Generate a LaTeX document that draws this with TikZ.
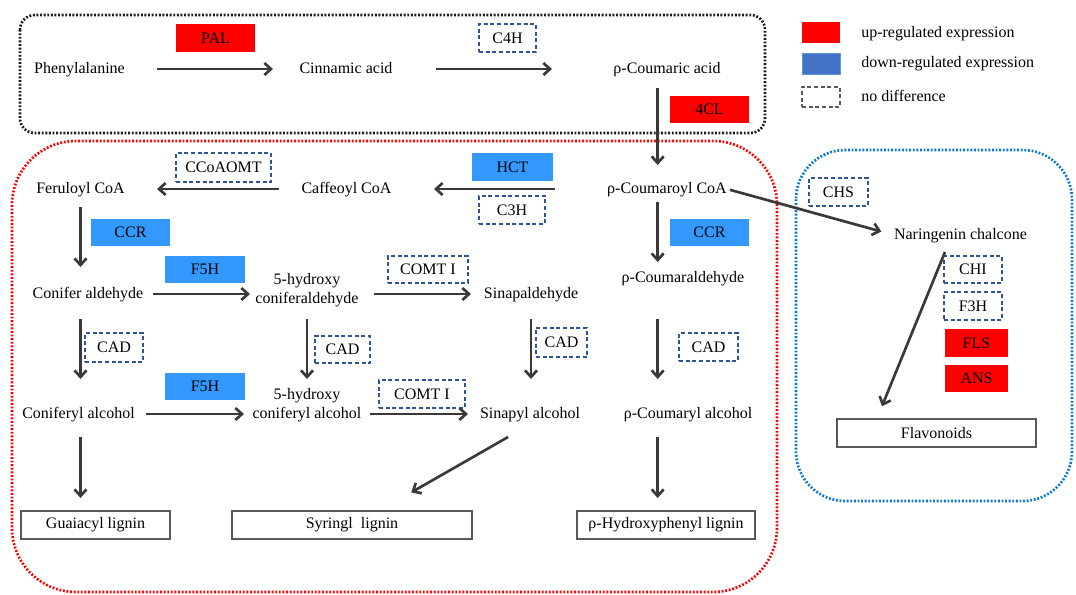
\documentclass[tikz,border=0pt]{standalone}
\usepackage{fontspec}
\setmainfont{Liberation Serif}
\usetikzlibrary{arrows.meta}
\definecolor{arrc}{HTML}{3B3838}
\definecolor{upred}{HTML}{FF0000}
\definecolor{downblue}{HTML}{3399FF}
\definecolor{legblue}{HTML}{4472C4}
\definecolor{legblueb}{HTML}{5B9BD5}
\definecolor{dashblue}{HTML}{2F5597}
\definecolor{prodgray}{HTML}{595959}
\definecolor{dotblue}{HTML}{0A78D2}
\definecolor{dotblack}{HTML}{1A1A1A}
\begin{document}
\begin{tikzpicture}[x=0.75pt,y=-0.75pt,
  font=\fontsize{12}{14.25}\selectfont,
  box/.style 2 args={minimum width=#1*0.75pt, minimum height=#2*0.75pt, inner sep=0pt},
  upbox/.style={fill=upred, draw=none},
  downbox/.style={fill=downblue, draw=none},
  nodiff/.style={draw=dashblue, line width=0.9pt, dash pattern=on 3pt off 2pt},
  prod/.style={draw=prodgray, line width=1.1pt, inner sep=0pt},
  txt/.style={inner sep=0pt, text height=9pt, text depth=2pt},
  two/.style={inner sep=0pt, align=center},
  arr/.style={draw=arrc, line width=2pt, -{Straight Barb[length=5pt,width=9pt]}},
  sh/.style 2 args={shorten <=#1*0.75pt, shorten >=#2*0.75pt},
  dotline/.style={line width=2pt, dash pattern=on 1.4pt off 1.3pt}
]
\useasboundingbox (0,0) rectangle (1076,594);

% containers
\draw[dotline, draw=dotblack, rounded corners=11pt] (20,15) rectangle (765,133);
\draw[dotline, draw=upred, rounded corners=48pt] (12,141) rectangle (777,592);
\draw[dotline, draw=dotblue, rounded corners=37pt] (796,150) rectangle (1072,501);

% legend
\node[box={38}{21}, fill=upred] (lgup) at (821,32.5) {};
\node[box={38}{21}, fill=legblue, draw=legblueb, line width=0.6pt] (lgdown) at (821,63.5) {};
\node[box={38}{20}, draw=prodgray, line width=0.9pt, dash pattern=on 3pt off 2pt] (lgno) at (821,97) {};
\node[txt, anchor=west] (lguptxt) at (861,33) {up-regulated expression};
\node[txt, anchor=west] (lgdowntxt) at (861,63) {down-regulated expression};
\node[txt, anchor=west] (lgnotxt) at (861,97) {no difference};

% metabolites
\node[txt] (phe) at (79.5,69) {Phenylalanine};
\node[txt] (cin) at (346,69) {Cinnamic acid};
\node[txt] (pca) at (667,69) {ρ-Coumaric acid};
\node[txt] (fer) at (80.5,189) {Feruloyl CoA};
\node[txt] (caf) at (346.5,189) {Caffeoyl CoA};
\node[txt] (pcoa) at (667,189) {ρ-Coumaroyl CoA};
\node[txt] (nar) at (960.5,235) {Naringenin chalcone};
\node[txt] (conald) at (88,294) {Conifer aldehyde};
\node[two] (hca) at (307,290.6) {5-hydroxy\\coniferaldehyde};
\node[txt] (sinald) at (531,294) {Sinapaldehyde};
\node[txt] (pcal) at (683,278) {ρ-Coumaraldehyde};
\node[txt] (conalc) at (78.5,414) {Coniferyl alcohol};
\node[two] (hcalc) at (307,405.6) {5-hydroxy\\coniferyl alcohol};
\node[txt] (sinalc) at (530,414) {Sinapyl alcohol};
\node[txt] (pcalc) at (688,414) {ρ-Coumaryl alcohol};

% products
\node[prod, box={149}{28}] (guai) at (95.5,525) {Guaiacyl lignin};
\node[prod, box={240}{28}] (syr) at (352,525) {Syringl~ lignin};
\node[prod, box={178}{28}] (phl) at (666,525) {ρ-Hydroxyphenyl lignin};
\node[prod, box={199}{28}] (flav) at (936.5,433) {Flavonoids};

% enzymes
\node[upbox, box={79}{28}] (pal) at (215.5,38) {PAL};
\node[nodiff, box={57}{28}] (c4h) at (507.5,38) {C4H};
\node[upbox, box={79}{27}] (fourcl) at (709.5,109.5) {4CL};
\node[nodiff, box={95}{29}] (ccoaomt) at (223.5,167.5) {CCoAOMT};
\node[downbox, box={81}{28}] (hct) at (512.5,167) {HCT};
\node[nodiff, box={66}{28}] (c3h) at (512,210) {C3H};
\node[downbox, box={79}{27}] (ccra) at (130.5,232.5) {CCR};
\node[downbox, box={80}{27}] (fvha) at (205,269.5) {F5H};
\node[nodiff, box={80}{27}] (comta) at (428,269.5) {COMT I};
\node[downbox, box={79}{27}] (ccrb) at (709.5,232.5) {CCR};
\node[nodiff, box={59}{28}] (chs) at (838.5,192) {CHS};
\node[nodiff, box={58}{27}] (chi) at (973,269.5) {CHI};
\node[nodiff, box={58}{28}] (fth) at (973,306) {F3H};
\node[upbox, box={63}{28}] (fls) at (976.5,343) {FLS};
\node[upbox, box={63}{27}] (ans) at (976.5,378.5) {ANS};
\node[nodiff, box={58}{29}] (cada) at (114,347.5) {CAD};
\node[nodiff, box={55}{27}] (cadb) at (342.5,349.5) {CAD};
\node[nodiff, box={51}{29}] (cadc) at (561.5,342.5) {CAD};
\node[nodiff, box={59}{28}] (cadd) at (708.5,347) {CAD};
\node[downbox, box={80}{27}] (fvhb) at (205,386.5) {F5H};
\node[nodiff, box={86}{28}] (comtb) at (422,394) {COMT I};

\coordinate (pl) at ([xshift=-7pt]pcoa.center);

% connectors
\draw[arr, sh={77.5}{73}] (phe.center) -- (cin.center);
\draw[arr, sh={90}{115}] (cin.center) -- (pca.center);
\draw[arr, sh={19}{24}] (pl |- pca.center) -- (pl);
\draw[arr, sh={112}{87.5}] (pcoa.center) -- (caf.center);
\draw[arr, sh={67.5}{76.5}] (caf.center) -- (fer.center);
\draw[arr, sh={3}{13}] (pcoa.east) -- (nar.west);
\draw[arr, sh={18}{27}] (fer.center) -- (fer.center |- conald.center);
\draw[arr, sh={65}{57}] (conald.center) -- (conald.center -| hca.center);
\draw[arr, sh={67}{60}] (conald.center -| hca.center) -- (sinald.center);
\draw[arr, sh={25}{35}] (fer.center |- conald.center) -- (fer.center |- conalc.center);
\draw[arr, sh={28.4}{26.6}] (hca.center) -- (hcalc.center);
\draw[arr, sh={25}{35}] (sinald.center) -- (sinald.center |- sinalc.center);
\draw[arr, sh={13}{16}] (pl) -- (pl |- pcal.center);
\draw[arr, sh={41}{35}] (pl |- pcal.center) -- (pl |- pcalc.center);
\draw[arr, sh={67.5}{63}] (conalc.center) -- (conalc.center -| hcalc.center);
\draw[arr, sh={63}{62}] (conalc.center -| hcalc.center) -- (sinalc.center);
\draw[arr, sh={23}{27}] (fer.center |- conalc.center) -- (fer.center |- guai.center);
\draw[arr, sh={31}{36}] ([xshift=3.75pt]sinalc.south) -- ([xshift=21pt]syr.north);
\draw[arr, sh={23}{27}] (pl |- pcalc.center) -- (pl |- phl.center);
\draw[arr, sh={18.4}{13}] ([xshift=-6.4pt]nar.center) -- ([xshift=-44.6pt]flav.north);
\end{tikzpicture}
\end{document}
